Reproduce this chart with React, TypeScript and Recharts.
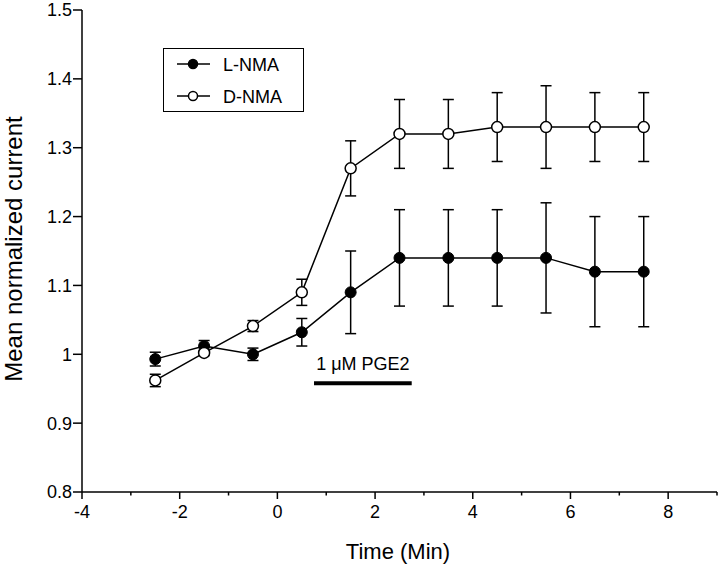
import React from 'react';
import { ComposedChart, Line, XAxis, YAxis, ErrorBar, ReferenceLine, Legend } from 'recharts';

const times = [-2.5, -1.5, -0.5, 0.5, 1.5, 2.5, 3.5, 4.5, 5.5, 6.5, 7.5];
const lNma = [0.993, 1.012, 1.0, 1.032, 1.09, 1.14, 1.14, 1.14, 1.14, 1.12, 1.12];
const lNmaErr = [0.01, 0.008, 0.009, 0.02, 0.06, 0.07, 0.07, 0.07, 0.08, 0.08, 0.08];
const dNma = [0.962, 1.002, 1.041, 1.09, 1.27, 1.32, 1.32, 1.33, 1.33, 1.33, 1.33];
const dNmaErr = [0.009, 0.004, 0.008, 0.019, 0.04, 0.05, 0.05, 0.05, 0.06, 0.05, 0.05];

const seriesNames = ['L-NMA', 'D-NMA'];
const xTicks = [-4, -3, -2, -1, 0, 1, 2, 3, 4, 5, 6, 7, 8, 9];
const yTicks = [0.8, 0.9, 1, 1.1, 1.2, 1.3, 1.4, 1.5];
const pgeStart = 0.75;
const pgeEnd = 2.75;
const pgeLevel = 0.958;
const pgeText = '1 \u03bcM PGE2';

const data = times.map((t, i) => ({
  t,
  l: lNma[i],
  lErr: lNmaErr[i],
  d: dNma[i],
  dErr: dNmaErr[i],
}));

const FONT = "'Liberation Sans', Arial, Helvetica, sans-serif";

const XTick = (props: any) => {
  const { x, y, payload } = props;
  const major = payload.value % 2 === 0;
  return (
    <g>
      <line x1={x} x2={x} y1={y} y2={y + (major ? 7 : 3.5)} stroke="#000" strokeWidth={1.5} />
      {major && (
        <text x={x} y={y + 26} textAnchor="middle" fontSize={18} fill="#000" fontFamily={FONT}>
          {payload.value}
        </text>
      )}
    </g>
  );
};

const LegendBox = () => (
  <div style={{ width: 141, height: 64, border: '1.5px solid #000', boxSizing: 'border-box', background: '#fff' }}>
    <svg width={138} height={61} style={{ display: 'block' }}>
      {seriesNames.map((name, i) => {
        const cy = 15 + i * 32;
        return (
          <g key={name}>
            <line x1={13} x2={46} y1={cy} y2={cy} stroke="#000" strokeWidth={1.5} />
            <circle cx={29} cy={cy} r={4.5} fill={i === 0 ? '#000' : '#fff'} stroke="#000" strokeWidth={1.5} />
            <text x={59} y={cy + 6.5} fontSize={18} fill="#000" fontFamily={FONT}>{name}</text>
          </g>
        );
      })}
    </svg>
  </div>
);

export default function App() {
  return (
    <div style={{ position: 'absolute', left: 0, top: 0, width: 720, height: 569, background: '#fff', fontFamily: FONT }}>
      <ComposedChart width={720} height={569} data={data} margin={{ top: 10, right: 3, bottom: 0, left: 0 }}>
        <XAxis
          dataKey="t"
          type="number"
          domain={[-4, 9]}
          ticks={xTicks}
          interval={0}
          tickSize={0}
          tickMargin={0}
          tickLine={false}
          tick={<XTick />}
          height={77}
          axisLine={{ stroke: '#000', strokeWidth: 1.5 }}
          label={{
            content: () => (
              <text x={398} y={559} textAnchor="middle" fontSize={22} fill="#000" fontFamily={FONT}>
                Time (Min)
              </text>
            ),
          }}
        />
        <YAxis
          type="number"
          domain={[0.8, 1.5]}
          ticks={yTicks}
          interval={0}
          width={82}
          tickSize={9}
          tickMargin={1}
          tick={{ fill: '#000', fontSize: 18, fontFamily: FONT }}
          tickLine={{ stroke: '#000', strokeWidth: 1.5 }}
          axisLine={{ stroke: '#000', strokeWidth: 1.5 }}
          label={{
            content: () => (
              <text
                x={22}
                y={249}
                transform="rotate(-90, 22, 249)"
                textAnchor="middle"
                fontSize={24}
                fill="#000"
                fontFamily={FONT}
              >
                Mean normalized current
              </text>
            ),
          }}
        />
        <ReferenceLine
          segment={[{ x: pgeStart, y: pgeLevel }, { x: pgeEnd, y: pgeLevel }]}
          stroke="#000"
          strokeWidth={4}
          label={{ value: pgeText, position: 'top', offset: 13, fontSize: 18, fill: '#000', fontFamily: FONT }}
        />
        <Line
          dataKey="l"
          name={seriesNames[0]}
          stroke="#000"
          strokeWidth={1.5}
          dot={{ r: 5.5, fill: '#000', stroke: '#000', strokeWidth: 1 }}
          activeDot={false}
          isAnimationActive={false}
        >
          <ErrorBar dataKey="lErr" direction="y" width={5.5} stroke="#000" strokeWidth={1.5} isAnimationActive={false} />
        </Line>
        <Line
          dataKey="d"
          name={seriesNames[1]}
          stroke="#000"
          strokeWidth={1.5}
          dot={{ r: 5.5, fill: '#fff', stroke: '#000', strokeWidth: 1.5 }}
          activeDot={false}
          isAnimationActive={false}
        >
          <ErrorBar dataKey="dErr" direction="y" width={5.5} stroke="#000" strokeWidth={1.5} isAnimationActive={false} />
        </Line>
        <Legend
          layout="vertical"
          align="center"
          verticalAlign="middle"
          wrapperStyle={{ position: 'absolute', left: 163, top: 48, width: 141, height: 64 }}
          content={() => <LegendBox />}
        />
      </ComposedChart>
    </div>
  );
}
